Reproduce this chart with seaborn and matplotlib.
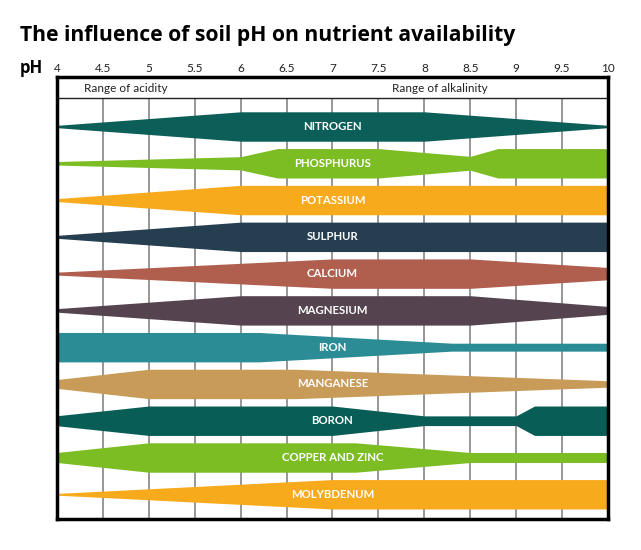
import numpy as np
import matplotlib
matplotlib.use("Agg")
import matplotlib.pyplot as plt
import seaborn as sns

sns.set_theme(style="white")
plt.rcParams['font.family'] = ['Lato', 'DejaVu Sans']

# ---- data ----
nutrients = ["NITROGEN", "PHOSPHURUS", "POTASSIUM", "SULPHUR", "CALCIUM",
             "MAGNESIUM", "IRON", "MANGANESE", "BORON", "COPPER AND ZINC", "MOLYBDENUM"]
colors = ["#0C5E58", "#7CBD24", "#F8AA1D", "#263F50", "#B05E4E",
          "#55444F", "#2B8C95", "#C99B58", "#085E57", "#7BBD23", "#F8AA1D"]

nitrogen_ph = [4, 6, 8, 10]
nitrogen_w = [0.08, 1, 1, 0.08]
phosphorus_ph = [4, 6, 6.4, 7.5, 8.5, 8.8, 10]
phosphorus_w = [0.12, 0.45, 1, 1, 0.47, 1, 1]
potassium_ph = [4, 6, 10]
potassium_w = [0.1, 1, 1]
sulphur_ph = [4, 6, 10]
sulphur_w = [0.1, 1, 1]
calcium_ph = [4, 7, 8.5, 10]
calcium_w = [0.1, 1, 1, 0.42]
magnesium_ph = [4, 6, 8.5, 10]
magnesium_w = [0.12, 1, 1, 0.27]
iron_ph = [4, 6.2, 8.3, 10]
iron_w = [1, 1, 0.27, 0.27]
manganese_ph = [4, 5, 6.6, 10]
manganese_w = [0.3, 1, 1, 0.22]
boron_ph = [4, 5, 7, 8, 9, 9.2, 10]
boron_w = [0.34, 1, 1, 0.33, 0.33, 1, 1]
copper_ph = [4, 5, 7.25, 8.5, 10]
copper_w = [0.34, 1, 1, 0.34, 0.34]
molybdenum_ph = [4, 7, 10]
molybdenum_w = [0.06, 1, 1]

profiles = [(nitrogen_ph, nitrogen_w), (phosphorus_ph, phosphorus_w),
            (potassium_ph, potassium_w), (sulphur_ph, sulphur_w),
            (calcium_ph, calcium_w), (magnesium_ph, magnesium_w),
            (iron_ph, iron_w), (manganese_ph, manganese_w),
            (boron_ph, boron_w), (copper_ph, copper_w),
            (molybdenum_ph, molybdenum_w)]

tick_vals = [4, 4.5, 5, 5.5, 6, 6.5, 7, 7.5, 8, 8.5, 9, 9.5, 10]
tick_labels = ["4", "4.5", "5", "5.5", "6", "6.5", "7", "7.5", "8", "8.5", "9", "9.5", "10"]

title = "The influence of soil pH on nutrient availability"

# ---- figure ----
W, H = 641, 550
fig = plt.figure(figsize=(W / 100, H / 100), dpi=100)
ax = fig.add_axes([57 / W, 1 - 519 / H, (608 - 57) / W, (519 - 77) / H])

y_top, y_bot = -1.346, 10.672
header_y = -0.775
half = 0.40

ax.set_xlim(4, 10)
ax.set_ylim(y_bot, y_top)

# grid
ax.vlines(tick_vals[1:-1], header_y, y_bot, color="#7a7a7a", lw=1.1, zorder=1)
ax.axhline(header_y, color="#222222", lw=1.0, zorder=1)

for i, ((ph, w), name, c) in enumerate(zip(profiles, nutrients, colors)):
    x = np.asarray(ph, dtype=float)
    hw = np.asarray(w, dtype=float) * half
    ax.fill_between(x, i - hw, i + hw, color=c, lw=0, zorder=2)
    ax.text(7, i, name, color="white", fontsize=8.2, fontweight="bold",
            ha="center", va="center", zorder=3)

ax.text(4.75, (y_top + header_y) / 2 + 0.02, "Range of acidity", fontsize=8.5,
        ha="center", va="center", color="#222222")
ax.text(8.17, (y_top + header_y) / 2 + 0.02, "Range of alkalinity", fontsize=8.5,
        ha="center", va="center", color="#222222")

ax.xaxis.tick_top()
ax.set_xticks(tick_vals)
ax.set_xticklabels(tick_labels, fontsize=8.5, color="#222222")
ax.tick_params(axis="x", length=0, pad=2)
ax.set_yticks([])

for s in ax.spines.values():
    s.set_visible(True)
    s.set_color("black")
    s.set_linewidth(2.5)

fig.text(20 / W, 1 - 36 / H, title, fontsize=15.2, fontweight="bold",
         ha="left", va="center", color="black", family=["Open Sans", "DejaVu Sans"])
fig.text(20 / W, 1 - 68 / H, "pH", fontsize=12, fontweight="bold",
         ha="left", va="center", color="black", family=["Open Sans", "DejaVu Sans"])

fig.savefig("out.png", dpi=100, facecolor="white")
